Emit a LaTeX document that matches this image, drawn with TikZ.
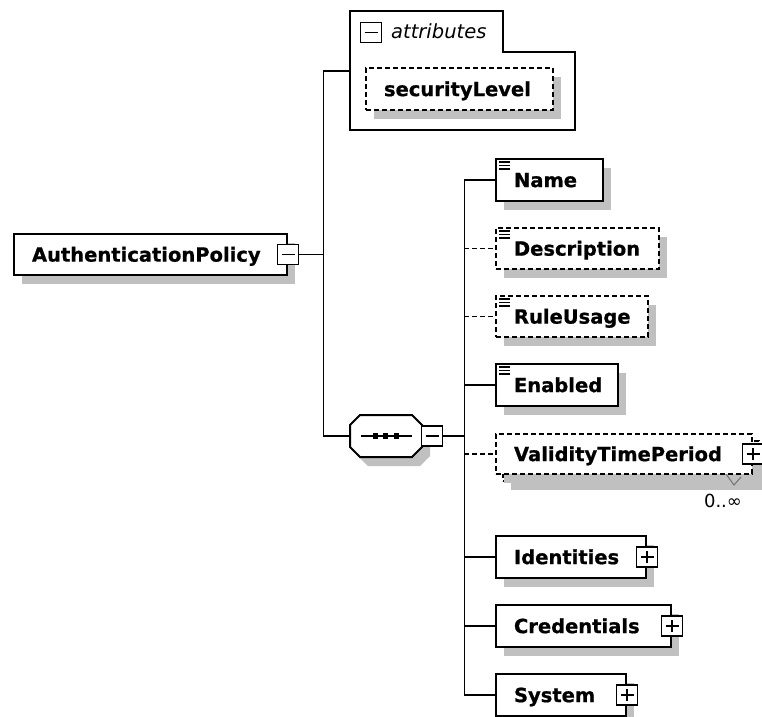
\documentclass[tikz,border=0pt]{standalone}
\usepackage{fontspec}
\setmainfont{DejaVu Sans}[BoldFeatures={FakeBold=0.8}]
\usetikzlibrary{shadows,calc}
\definecolor{shade}{HTML}{C0C0C0}
% fixed-width, left-aligned element caption
\newcommand{\elemlabel}[2]{\hbox to #1{#2\hfil}}

\begin{document}
\begin{tikzpicture}[x=1pt,y=-1pt,
  elem/.style={draw, line width=2pt, fill=white, rectangle, anchor=north west,
    inner xsep=18pt, inner ysep=0pt, minimum height=42pt,
    text height=14.2pt, text depth=0pt,
    font=\fontsize{19.5}{22}\selectfont\bfseries,
    drop shadow={shadow xshift=8pt, shadow yshift=-9pt, opacity=1, fill=shade}},
  optelem/.style={elem, dash pattern=on 5pt off 3pt},
  pmbox/.style={draw, line width=1.8pt, fill=white, rectangle,
    minimum width=21pt, minimum height=20pt, inner sep=0pt},
  minus/.style={pmbox, path picture={
    \draw[line width=1.6pt] ($(path picture bounding box.west)+(4,0)$) -- ($(path picture bounding box.east)+(-4,0)$);}},
  plus/.style={pmbox, path picture={
    \draw[line width=1.6pt] ($(path picture bounding box.west)+(4,0)$) -- ($(path picture bounding box.east)+(-4,0)$);
    \draw[line width=1.6pt] ($(path picture bounding box.north)+(0,4)$) -- ($(path picture bounding box.south)+(0,-4)$);}},
  conn/.style={line width=1.8pt},
  optconn/.style={line width=1.8pt, dash pattern=on 5pt off 3pt},
  texticon/.style={line width=1.4pt},
  outline/.style={line width=2pt}
]
\useasboundingbox (0,0) rectangle (762,716);

% ---------- root element ----------
\node[elem, minimum height=41pt] (ap) at (13,233) {\elemlabel{237pt}{AuthenticationPolicy}};
\node[minus] (apm) at (ap.east) {};

% ---------- attribute group ----------
\node[anchor=north west, minimum width=225pt, minimum height=119pt, inner sep=0pt] (attr) at (350,11) {};
\draw[outline, fill=white] (350,11) -- (503,11) -- (503,52) -- (575,52) -- (575,130) -- (350,130) -- cycle;
\node[minus] (attrm) at (371,32.5) {};
\node[anchor=base west, inner sep=0pt, font=\fontsize{19.5}{22}\selectfont\itshape] (attrlbl) at (391,38.5) {attributes};
\node[optelem] (sec) at (365,67) {\elemlabel{151pt}{securityLevel}};

% ---------- sequence compositor ----------
\node[minimum width=72pt, minimum height=42pt, inner sep=0pt] (seq) at (386,436) {};
\draw[outline, fill=white, drop shadow={shadow xshift=8pt, shadow yshift=-9pt, opacity=1, fill=shade}]
  (360,415) -- (412,415) -- (422,425) -- (422,447) -- (412,457) -- (360,457) -- (350,447) -- (350,425) -- cycle;
\draw[line width=1.6pt] (361,436) -- (412,436);
\foreach \cx in {375,385.5,396} \fill (\cx-2.5,433) rectangle (\cx+2.5,438.5);
\node[minus] (seqm) at (432,436) {};

% ---------- child elements ----------
\node[elem] (name) at (495,158) {\elemlabel{71pt}{Name}};
\node[optelem, minimum height=41pt] (desc) at (495,227) {\elemlabel{127pt}{Description}};
\node[optelem, minimum height=41pt] (rule) at (495,295) {\elemlabel{116pt}{RuleUsage}};
\node[elem] (enab) at (495,363) {\elemlabel{86pt}{Enabled}};

% repeated element: stacked frames
\node[optelem, minimum height=40pt] (vtpback) at (502,440) {\phantom{\elemlabel{220pt}{ValidityTimePeriod}}};
\node[optelem, minimum height=40pt, drop shadow={opacity=0}] (vtp) at (495,433) {\elemlabel{220pt}{ValidityTimePeriod}};
\node[plus] (vtpp) at (vtp.east) {};
\draw[line width=1pt, color=black!55] (726,474) -- (734,485) -- (741,477);
\node[inner sep=0pt, font=\fontsize{18}{20}\selectfont] (vtpocc) at (723,501) {0..∞};

\node[elem] (ident) at (495,535) {\elemlabel{114pt}{Identities}};
\node[plus] (identp) at (ident.east) {};
\node[elem] (cred) at (495,604) {\elemlabel{139pt}{Credentials}};
\node[plus] (credp) at (cred.east) {};
\node[elem] (sys) at (495,673) {\elemlabel{94pt}{System}};
\node[plus] (sysp) at (sys.east) {};

% simple-content markers
\foreach \n in {name,desc,rule,enab} {
  \draw[texticon] ([shift={(4,4)}]\n.north west) -- ++(11,0);
  \draw[texticon] ([shift={(4,7.5)}]\n.north west) -- ++(11,0);
  \draw[texticon] ([shift={(4,11)}]\n.north west) -- ++(11,0);
}

% ---------- connectors ----------
\coordinate (t1) at ([xshift=24pt]apm.east);
\draw[conn] (apm.east) -- (t1);
\draw[conn] (t1) |- (attr.west);
\draw[conn] (t1) |- (seq.west);

\coordinate (t2) at ([xshift=21pt]seqm.east);
\draw[conn] (seqm.east) -- (t2);
\draw[conn] (t2) |- (name.west);
\draw[conn] (t2) |- (sys.west);
\draw[conn] (t2 |- enab.west) -- (enab.west);
\draw[conn] (t2 |- ident.west) -- (ident.west);
\draw[conn] (t2 |- cred.west) -- (cred.west);
\draw[optconn] (t2 |- desc.west) -- (desc.west);
\draw[optconn] (t2 |- rule.west) -- (rule.west);
\draw[optconn] (t2 |- vtp.west) -- (vtp.west);
\end{tikzpicture}
\end{document}
